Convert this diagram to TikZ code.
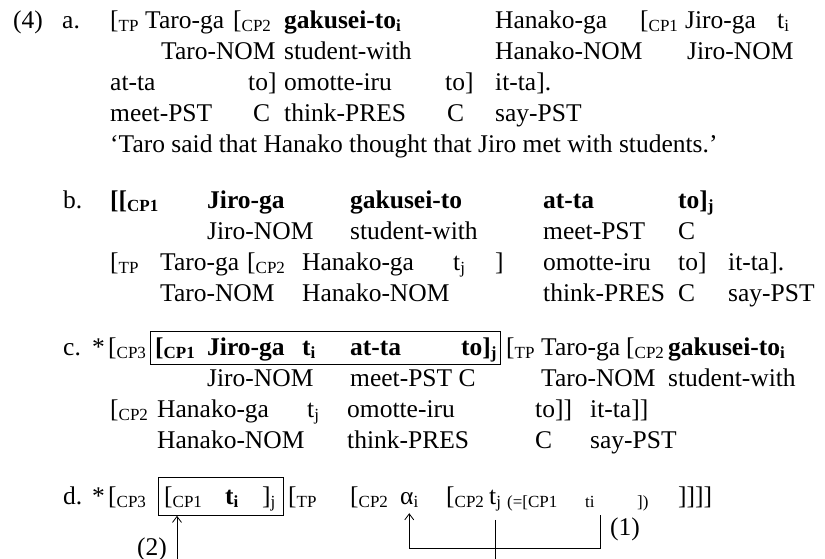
\documentclass[tikz,border=0pt]{standalone}
\usepackage{fontspec}
\setmainfont{Liberation Serif}
\usetikzlibrary{arrows.meta,positioning,calc}
\newcommand{\subx}[1]{\raisebox{-3pt}{\fontsize{17}{17}\selectfont #1}}

\begin{document}
\begin{tikzpicture}[x=1pt, y=-1pt,
    word/.style={anchor=base west, inner sep=0pt, font=\fontsize{25.5}{31}\selectfont},
    bword/.style={anchor=base west, inner sep=0pt, font=\fontsize{25.5}{31}\selectfont\bfseries},
    smalltxt/.style={anchor=base west, inner sep=0pt, font=\fontsize{17}{17}\selectfont},
    boxed/.style={draw, line width=0.8pt, anchor=north west, inner sep=0pt},
    arr/.style={-{Straight Barb[length=6pt,width=9pt]}, line width=0.8pt}]
    \useasboundingbox (0,0) rectangle (825,559);

    % (4a)
    \node[word] (a1) at (13,29) {(4)};
    \node[word] (a2) at (62,29) {a.};
    \node[word] (a3) at (110,29) {[\subx{TP}};
    \node[word] (a4) at (145,29) {Taro-ga};
    \node[word] (a5) at (233,29) {[\subx{CP2}};
    \node[bword] (a6) at (284,29) {gakusei-to\subx{i}};
    \node[word] (a7) at (495,29) {Hanako-ga};
    \node[word] (a8) at (640,29) {[\subx{CP1}};
    \node[word] (a9) at (685,29) {Jiro-ga};
    \node[word] (a10) at (777,29) {t\subx{i}};
    \node[word] (a11) at (161,60) {Taro-NOM};
    \node[word] (a12) at (284,60) {student-with};
    \node[word] (a13) at (495,60) {Hanako-NOM};
    \node[word] (a14) at (687,60) {Jiro-NOM};
    \node[word] (a15) at (110,91) {at-ta};
    \node[word] (a16) at (248,91) {to]};
    \node[word] (a17) at (284,91) {omotte-iru};
    \node[word] (a18) at (445,91) {to]};
    \node[word] (a19) at (495,91) {it-ta].};
    \node[word] (a20) at (110,122) {meet-PST};
    \node[word] (a21) at (253,122) {C};
    \node[word] (a22) at (284,122) {think-PRES};
    \node[word] (a23) at (447,122) {C};
    \node[word] (a24) at (495,122) {say-PST};
    \node[word] (a25) at (110,153) {‘Taro said that Hanako thought that Jiro met with students.’};

    % (4b)
    \node[word] (b1) at (63,208) {b.};
    \node[bword] (b2) at (110,208) {[[\subx{CP1}};
    \node[bword] (b3) at (207,208) {Jiro-ga};
    \node[bword] (b4) at (350,208) {gakusei-to};
    \node[bword] (b5) at (543,208) {at-ta};
    \node[bword] (b6) at (678,208) {to]\subx{j}};
    \node[word] (b7) at (207,239) {Jiro-NOM};
    \node[word] (b8) at (350,239) {student-with};
    \node[word] (b9) at (543,239) {meet-PST};
    \node[word] (b10) at (678,239) {C};
    \node[word] (b11) at (110,270) {[\subx{TP}};
    \node[word] (b12) at (160,270) {Taro-ga};
    \node[word] (b13) at (247,270) {[\subx{CP2}};
    \node[word] (b14) at (302,270) {Hanako-ga};
    \node[word] (b15) at (453,270) {t\subx{j}};
    \node[word] (b16) at (495,270) {]};
    \node[word] (b17) at (543,270) {omotte-iru};
    \node[word] (b18) at (678,270) {to]};
    \node[word] (b19) at (728,270) {it-ta].};
    \node[word] (b20) at (160,301) {Taro-NOM};
    \node[word] (b21) at (302,301) {Hanako-NOM};
    \node[word] (b22) at (543,301) {think-PRES};
    \node[word] (b23) at (678,301) {C};
    \node[word] (b24) at (728,301) {say-PST};

    % (4c)
    \node[boxed, minimum width=350pt, minimum height=33pt] (cbox) at (150,331) {};
    \node[word] (c1) at (63,355) {c.};
    \node[word] (c2) at (92,355) {*};
    \node[word] (c3) at (108,355) {[\subx{CP3}};
    \node[bword] (c4) at (155,355) {[\subx{CP1}};
    \node[bword] (c5) at (207,355) {Jiro-ga};
    \node[bword] (c6) at (302,355) {t\subx{i}};
    \node[bword] (c7) at (350,355) {at-ta};
    \node[bword] (c8) at (461,355) {to]\subx{j}};
    \node[word] (c9) at (506,355) {[\subx{TP}};
    \node[word] (c10) at (541,355) {Taro-ga};
    \node[word] (c11) at (626,355) {[\subx{CP2}};
    \node[bword] (c12) at (668,355) {gakusei-to\subx{i}};
    \node[word] (c13) at (207,386) {Jiro-NOM};
    \node[word] (c14) at (350,386) {meet-PST C};
    \node[word] (c15) at (541,386) {Taro-NOM};
    \node[word] (c16) at (668,386) {student-with};
    \node[word] (c17) at (110,417) {[\subx{CP2}};
    \node[word] (c18) at (157,417) {Hanako-ga};
    \node[word] (c19) at (307,417) {t\subx{j}};
    \node[word] (c20) at (347,417) {omotte-iru};
    \node[word] (c21) at (535,417) {to]]};
    \node[word] (c22) at (590,417) {it-ta]]};
    \node[word] (c23) at (157,448) {Hanako-NOM};
    \node[word] (c24) at (347,448) {think-PRES};
    \node[word] (c25) at (535,448) {C};
    \node[word] (c26) at (590,448) {say-PST};

    % (4d)
    \node[boxed, minimum width=125pt, minimum height=38pt] (dbox) at (158,477) {};
    \node[word] (d1) at (63,504) {d.};
    \node[word] (d2) at (92,504) {*};
    \node[word] (d3) at (108,504) {[\subx{CP3}};
    \node[word] (d4) at (164,504) {[\subx{CP1}};
    \node[bword] (d5) at (225,504) {t\subx{i}};
    \node[word] (d6) at (262,504) {]\subx{j}};
    \node[word] (d7) at (288,504) {[\subx{TP}};
    \node[word] (d8) at (350,504) {[\subx{CP2}};
    \node[word] (alpha) at (400,504) {α\subx{i}};
    \node[word] (d9) at (446,504) {[\subx{CP2}};
    \node[word] (tj) at (489,504) {t\subx{j}};
    \node[smalltxt] (d10) at (507,507) {(=[CP1};
    \node[smalltxt] (d11) at (585,507) {ti};
    \node[smalltxt] (d12) at (637,507) {])};
    \node[word] (d13) at (678,504) {]]]]};

    % movements
    \coordinate (bot) at (0,559);
    \coordinate (up2) at (177,559);
    \coordinate (tail) at (600,515);
    \coordinate (floor) at (0,548);
    \node[word] (one) at (610,535) {(1)};
    \node[word] (two) at (137,555) {(2)};
    \draw[arr] (up2) -- (up2 |- dbox.south);
    \draw[arr] (tail) -- (tail |- floor) -- (alpha.south |- floor) -- ([yshift=-6pt]alpha.south);
    \draw[line width=0.8pt, shorten <=9pt] (tj.south) -- (tj.south |- bot);
\end{tikzpicture}
\end{document}
